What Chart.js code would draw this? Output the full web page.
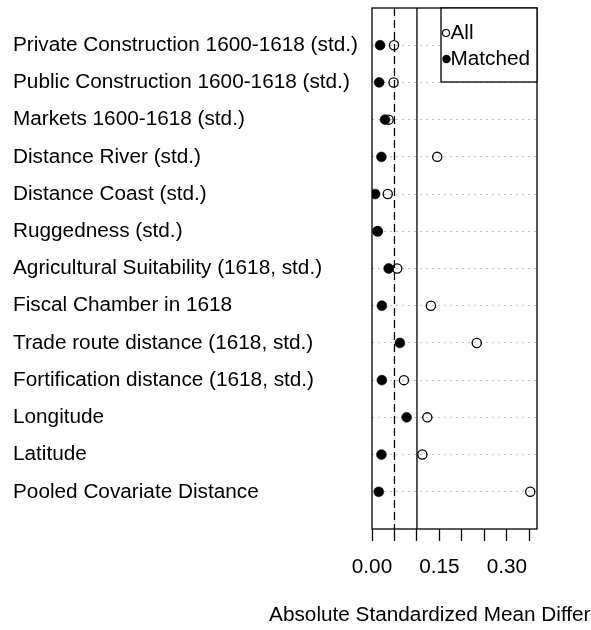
<!DOCTYPE html>
<html><head><meta charset="utf-8">
<script src="https://cdn.jsdelivr.net/npm/chart.js@4/dist/chart.umd.min.js"></script>
<style>html,body{margin:0;padding:0;background:#fff;}canvas{display:block;}</style>
</head><body>
<canvas id="c" width="591" height="630"></canvas>
<script>
const covariates = [
  'Private Construction 1600-1618 (std.)',
  'Public Construction 1600-1618 (std.)',
  'Markets 1600-1618 (std.)',
  'Distance River (std.)',
  'Distance Coast (std.)',
  'Ruggedness (std.)',
  'Agricultural Suitability (1618, std.)',
  'Fiscal Chamber in 1618',
  'Trade route distance (1618, std.)',
  'Fortification distance (1618, std.)',
  'Longitude',
  'Latitude',
  'Pooled Covariate Distance'
];
const allValues     = [0.049, 0.048, 0.037, 0.145, 0.035, 0.012, 0.056, 0.131, 0.233, 0.071, 0.123, 0.112, 0.352];
const matchedValues = [0.018, 0.016, 0.029, 0.021, 0.007, 0.013, 0.037, 0.022, 0.062, 0.022, 0.077, 0.021, 0.015];
const seriesNames = ['All', 'Matched'];
const xTickValues = [0, 0.15, 0.30];
const xTickLabels = ['0.00', '0.15', '0.30'];
const thresholdDashed = 0.05;
const thresholdSolid = 0.10;
const xTitle = 'Absolute Standardized Mean Differences';

const FONT = "'Liberation Sans', Arial, Helvetica, sans-serif";
const FS = 20.75;

const allPts = allValues.map((v, i) => ({x: v, y: i + 1}));
const matchedPts = matchedValues.map((v, i) => ({x: v, y: i + 1}));

const framePlugin = {
  id: 'frame',
  beforeDatasetsDraw(chart) {
    const {ctx, chartArea: a, scales: {x}} = chart;
    ctx.save();
    ctx.strokeStyle = '#000';
    ctx.lineWidth = 1.3;
    const xd = x.getPixelForValue(thresholdDashed);
    ctx.setLineDash([8, 4]);
    ctx.beginPath(); ctx.moveTo(xd, a.top); ctx.lineTo(xd, a.bottom); ctx.stroke();
    ctx.setLineDash([]);
    const xs = x.getPixelForValue(thresholdSolid);
    ctx.beginPath(); ctx.moveTo(xs, a.top); ctx.lineTo(xs, a.bottom); ctx.stroke();
    ctx.restore();
  },
  afterDatasetsDraw(chart) {
    const {ctx, chartArea: a} = chart;
    ctx.save();
    ctx.strokeStyle = '#000';
    ctx.lineWidth = 1.3;
    ctx.strokeRect(a.left, a.top, a.right - a.left, a.bottom - a.top);
    // legend
    const lx = a.right - 96, ly = a.top, lw = 96, lh = 74;
    ctx.fillStyle = '#fff';
    ctx.fillRect(lx, ly, lw, lh);
    ctx.strokeRect(lx, ly, lw, lh);
    ctx.font = FS + 'px ' + FONT;
    ctx.textBaseline = 'middle';
    ctx.textAlign = 'left';
    ctx.fillStyle = '#000';
    // All
    ctx.beginPath(); ctx.arc(lx + 5, ly + 25, 3.5, 0, Math.PI * 2); ctx.lineWidth = 1.1; ctx.stroke();
    ctx.fillText(seriesNames[0], lx + 9.5, ly + 25);
    // Matched
    ctx.beginPath(); ctx.arc(lx + 5.5, ly + 51, 4.2, 0, Math.PI * 2); ctx.fill();
    ctx.fillText(seriesNames[1], lx + 9.5, ly + 51);
    // x title
    ctx.textAlign = 'center';
    ctx.fillText(xTitle, (a.left + a.right) / 2 + 3, 615);
    ctx.restore();
  }
};

new Chart(document.getElementById('c'), {
  type: 'scatter',
  data: {
    datasets: [
      {label: seriesNames[0], data: allPts, order: 2, pointStyle: 'circle', pointRadius: 4.6,
       backgroundColor: 'rgba(0,0,0,0)', borderColor: '#000', borderWidth: 1.3},
      {label: seriesNames[1], data: matchedPts, order: 1, pointStyle: 'circle', pointRadius: 4.9,
       backgroundColor: '#000', borderColor: '#000', borderWidth: 0.6}
    ]
  },
  options: {
    responsive: false,
    animation: false,
    devicePixelRatio: 1,
    layout: {padding: {left: 13, right: 54, top: 8, bottom: 0}},
    plugins: {legend: {display: false}, tooltip: {enabled: false}},
    scales: {
      x: {
        type: 'linear', position: 'bottom', min: 0, max: 0.367,
        afterFit(s) { s.height = 101; s.paddingLeft = 0; s.paddingRight = 0; },
        border: {display: false},
        grid: {drawOnChartArea: false, drawTicks: true, tickLength: 12, tickColor: '#000', tickWidth: 1.3},
        ticks: {
          stepSize: 0.05, autoSkip: false, includeBounds: false, maxRotation: 0, padding: 14,
          color: '#000', font: {family: FONT, size: FS},
          callback(v) {
            const k = xTickValues.findIndex(t => Math.abs(t - v) < 1e-9);
            return k >= 0 ? xTickLabels[k] : '';
          }
        }
      },
      y: {
        type: 'linear', position: 'left', reverse: true, min: 0, max: 14,
        afterFit(s) { s.width = 359; s.paddingTop = 0; s.paddingBottom = 0; },
        border: {display: false, dash: [2, 4]},
        grid: {
          drawTicks: false, lineWidth: 1,
          color(ctx) { const v = ctx.tick && ctx.tick.value; return (v >= 1 && v <= covariates.length) ? '#BEBEBE' : 'rgba(0,0,0,0)'; }
        },
        ticks: {
          stepSize: 1, autoSkip: false, crossAlign: 'far', color: '#000', font: {family: FONT, size: FS},
          callback(v) { return (v >= 1 && v <= covariates.length) ? covariates[v - 1] : null; }
        }
      }
    }
  },
  plugins: [framePlugin]
});
</script>
</body></html>
